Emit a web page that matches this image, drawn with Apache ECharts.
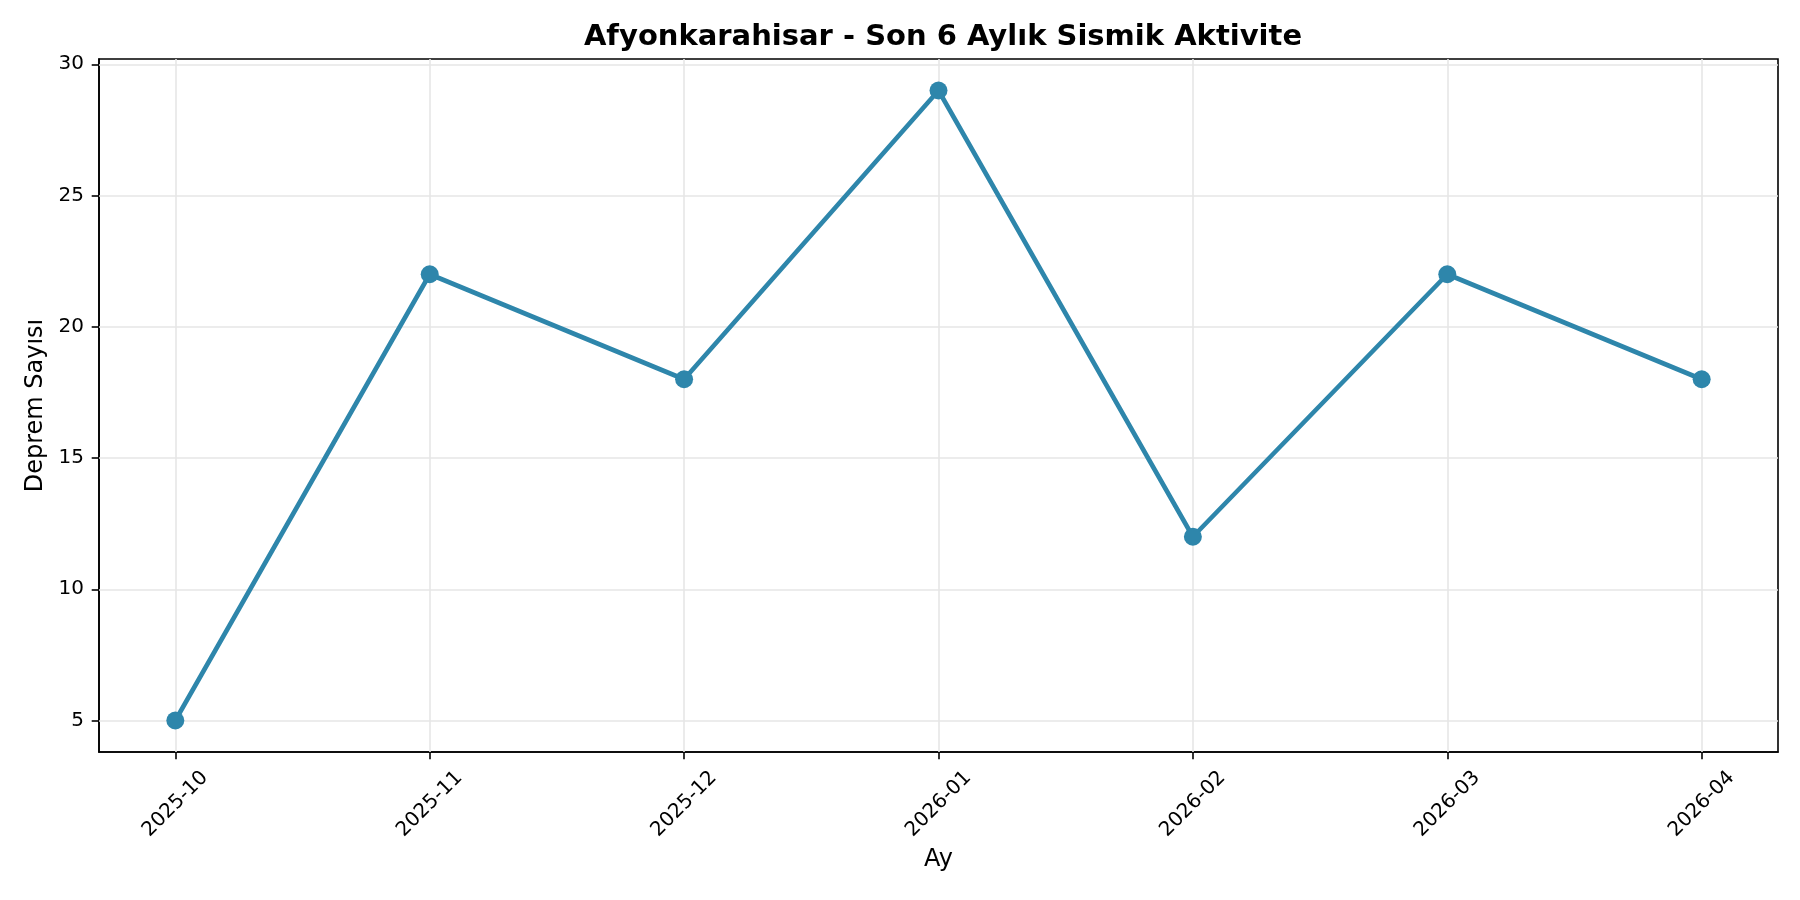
<!DOCTYPE html>
<html>
<head>
<meta charset="utf-8">
<script src="https://cdn.jsdelivr.net/npm/echarts@6/dist/echarts.min.js"></script>
<style>
html,body{margin:0;padding:0;background:#fff;}
#chart{width:1800px;height:900px;}
</style>
</head>
<body>
<div id="chart"></div>
<script>
const titleText = 'Afyonkarahisar - Son 6 Aylık Sismik Aktivite';
const months = ['2025-10','2025-11','2025-12','2026-01','2026-02','2026-03','2026-04'];
const quakeCounts = [5, 22, 18, 29, 12, 22, 18];
const yTicks = [5, 10, 15, 20, 25, 30];
const xTicks = [0, 1, 2, 3, 4, 5, 6];

const font = 'DejaVu Sans';
const seriesData = months.map((m, i) => [i, quakeCounts[i]]);

const chart = echarts.init(document.getElementById('chart'), null, {renderer: 'canvas'});
chart.setOption({
  backgroundColor: '#ffffff',
  animation: false,
  title: {
    text: titleText,
    left: 938,
    top: 18,
    textAlign: 'center',
    textStyle: {fontFamily: font, fontSize: 29, fontWeight: 'bold', color: '#000'}
  },
  grid: {
    left: 99, right: 22, top: 59, bottom: 148,
    show: true, borderColor: '#000', borderWidth: 1.6, backgroundColor: 'transparent'
  },
  xAxis: {
    type: 'value',
    min: -0.3, max: 6.3,
    name: 'Ay',
    nameLocation: 'middle',
    nameGap: 93,
    nameTextStyle: {fontFamily: font, fontSize: 24, color: '#000'},
    axisLine: {show: true, onZero: false, lineStyle: {color: '#000', width: 1.6}},
    axisTick: {show: true, length: 7.3, lineStyle: {color: '#000', width: 1.6}, customValues: xTicks},
    axisLabel: {
      customValues: xTicks,
      rotate: 45,
      align: 'center',
      verticalAlign: 'middle',
      margin: 52,
      fontFamily: font, fontSize: 20, color: '#000',
      formatter: v => months[Math.round(v)] ?? ''
    },
    splitLine: {show: false}
  },
  yAxis: {
    type: 'value',
    min: 3.8, max: 30.2,
    name: 'Deprem Sayısı',
    nameLocation: 'middle',
    nameGap: 50,
    nameTextStyle: {fontFamily: font, fontSize: 24, color: '#000'},
    axisLine: {show: true, onZero: false, lineStyle: {color: '#000', width: 1.6}},
    axisTick: {show: true, length: 7.3, lineStyle: {color: '#000', width: 1.6}, customValues: yTicks},
    axisLabel: {customValues: yTicks, margin: 15, fontFamily: font, fontSize: 20, color: '#000'},
    splitLine: {show: false}
  },
  series: [
    {
      type: 'line',
      data: seriesData,
      symbol: 'circle',
      symbolSize: 18,
      itemStyle: {color: '#2E86AB'},
      lineStyle: {color: '#2E86AB', width: 4.6},
      z: 5
    },
    {
      // grid lines at tick positions
      type: 'line',
      data: [],
      markLine: {
        silent: true, symbol: 'none', label: {show: false},
        lineStyle: {color: '#e6e6e6', width: 1.6, type: 'solid'},
        data: xTicks.map(x => ({xAxis: x})).concat(yTicks.map(y => ({yAxis: y})))
      },
      z: 1
    }
  ]
});
</script>
</body>
</html>
